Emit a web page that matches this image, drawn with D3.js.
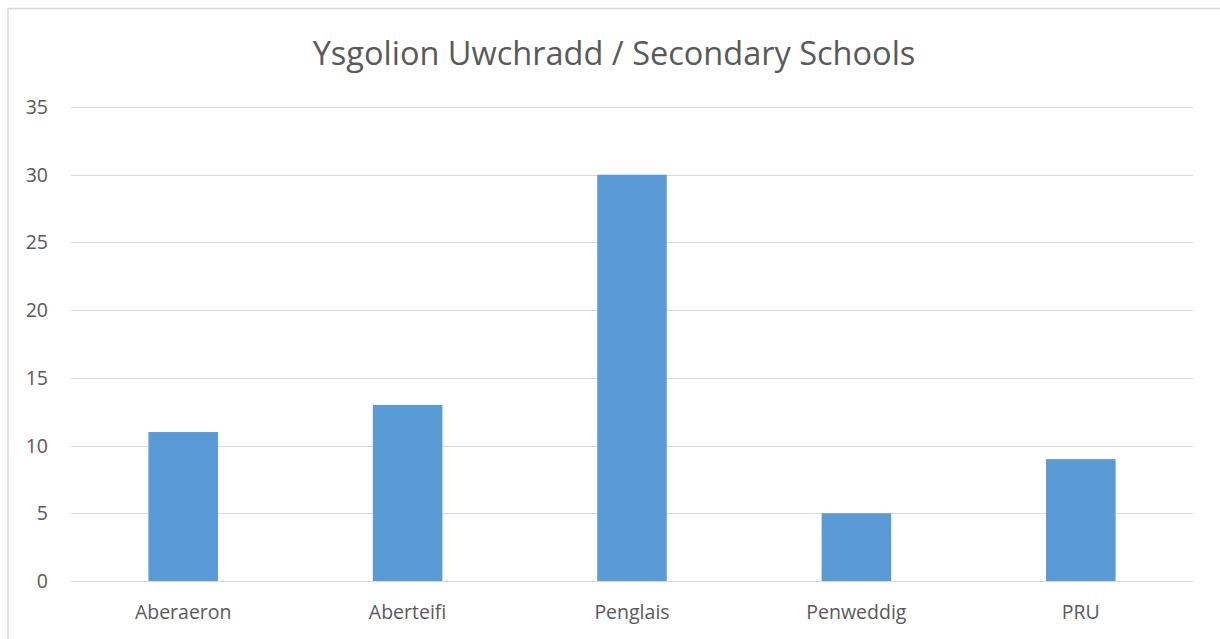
<!DOCTYPE html>
<html>
<head>
<meta charset="utf-8">
<script src="https://cdn.jsdelivr.net/npm/d3@7"></script>
<style>
  body { margin: 0; background: #fff; }
  text { font-family: "Open Sans", sans-serif; fill: #595959; }
</style>
</head>
<body>
<div id="chart"></div>
<script>
const categories = ['Aberaeron', 'Aberteifi', 'Penglais', 'Penweddig', 'PRU'];
const values = [11, 13, 30, 5, 9];
const yTicks = [0, 5, 10, 15, 20, 25, 30, 35];
const title = 'Ysgolion Uwchradd / Secondary Schools';

const width = 1220, height = 639;
const margin = { top: 107, right: 27, bottom: 58, left: 71 };

const svg = d3.select('#chart')
  .append('svg')
  .attr('width', width)
  .attr('height', height);

// outer chart border
svg.append('rect')
  .attr('x', 8).attr('y', 8.5)
  .attr('width', 1230).attr('height', 660)
  .attr('fill', 'none')
  .attr('stroke', '#d9d9d9')
  .attr('stroke-width', 1.5);

const x = d3.scaleBand()
  .domain(categories)
  .range([margin.left, width - margin.right])
  .paddingInner(0.69)
  .paddingOuter(0.345);

const y = d3.scaleLinear()
  .domain([0, 35])
  .range([height - margin.bottom, margin.top]);

// gridlines
svg.append('g')
  .selectAll('line')
  .data(yTicks)
  .enter().append('line')
  .attr('x1', margin.left)
  .attr('x2', width - margin.right)
  .attr('y1', d => Math.round(y(d)) + 0.5)
  .attr('y2', d => Math.round(y(d)) + 0.5)
  .attr('stroke', '#d9d9d9')
  .attr('stroke-width', 1.2);

// y labels
svg.append('g')
  .selectAll('text')
  .data(yTicks)
  .enter().append('text')
  .attr('x', 48)
  .attr('y', d => y(d))
  .attr('dy', '0.36em')
  .attr('text-anchor', 'end')
  .attr('font-size', 19.5)
  .text(d => d);

// bars
svg.append('g')
  .selectAll('rect')
  .data(values)
  .enter().append('rect')
  .attr('x', (d, i) => x(categories[i]))
  .attr('width', x.bandwidth())
  .attr('y', d => y(d))
  .attr('height', d => y(0) - y(d))
  .attr('fill', '#5b9bd5');

// x labels
svg.append('g')
  .selectAll('text')
  .data(categories)
  .enter().append('text')
  .attr('x', d => x(d) + x.bandwidth() / 2)
  .attr('y', 619)
  .attr('text-anchor', 'middle')
  .attr('font-size', 19.5)
  .text(d => d);

svg.append('text')
  .attr('x', 614)
  .attr('y', 65)
  .attr('text-anchor', 'middle')
  .attr('font-size', 32.5)
  .text(title);
</script>
</body>
</html>
